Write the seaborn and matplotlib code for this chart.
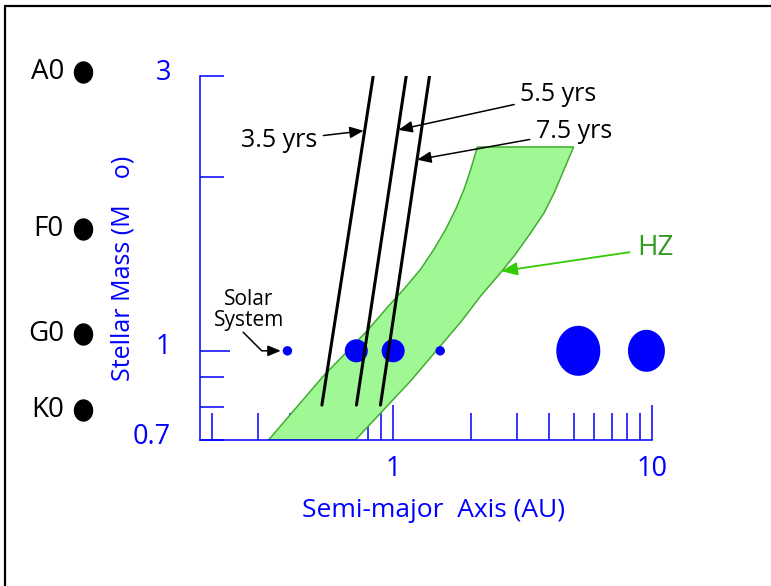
import numpy as np
import pandas as pd
import matplotlib.pyplot as plt
import matplotlib.transforms as mtransforms
from matplotlib.lines import Line2D
from matplotlib.ticker import NullFormatter
import seaborn as sns

# --- data ---
# orbital period lines: semi-major axis (AU) at the low and high mass end
periods = ['3.5 yrs', '5.5 yrs', '7.5 yrs']
period_a_low = [0.530, 0.721, 0.893]
period_a_high = [0.837, 1.123, 1.382]
period_m_low = 0.805
period_m_high = 3.0

# habitable zone edges (AU vs stellar mass)
hz_inner_a = [0.3295, 0.538, 0.793, 0.948, 1.099, 1.276, 1.437, 1.595, 1.744,
              1.878, 1.994, 2.117]
hz_inner_m = [0.70, 0.905, 1.083, 1.189, 1.279, 1.385, 1.500, 1.624, 1.760,
              1.905, 2.065, 2.259]
hz_outer_a = [0.714, 1.167, 1.823, 2.180, 2.606, 2.934, 3.406, 3.835, 4.194,
              4.584, 4.985]
hz_outer_m = [0.70, 0.886, 1.121, 1.245, 1.367, 1.460, 1.603, 1.736, 1.880,
              2.065, 2.259]

# solar system planets
planets = ['Mercury', 'Venus', 'Earth', 'Mars', 'Jupiter', 'Saturn']
planet_a = [0.39, 0.72, 1.0, 1.52, 5.2, 9.54]
planet_m = [1.0, 1.0, 1.0, 1.0, 1.0, 1.0]

# spectral types marked on the left
spec_types = ['A0', 'F0', 'G0', 'K0']
spec_mass = [3.05, 1.63, 1.07, 0.79]

x_major = [1, 10]
x_minor = [0.2, 0.3, 0.4, 0.5, 0.6, 0.7, 0.8, 0.9, 2, 3, 4, 5, 6, 7, 8, 9]
y_major = [1]
y_minor = [0.7, 0.8, 0.9, 2, 3]
y_minor_labels = ['0.7', '', '', '', '3']

BLUE = '#0000ff'

sns.set_theme(style='white')
plt.rcParams['font.family'] = ['Open Sans', 'DejaVu Sans']
plt.rcParams['text.color'] = 'black'

fig = plt.figure(figsize=(7.71, 5.86), dpi=100)
ax = fig.add_axes([0.2594, 0.2491, 0.5859, 0.6212])

# habitable zone band
ax.fill(np.r_[hz_inner_a, hz_outer_a[::-1]], np.r_[hz_inner_m, hz_outer_m[::-1]],
        facecolor='#a0f894', edgecolor='#44aa33', lw=1.1, zorder=1)

# planets (inner ones round, giants slightly tall ellipses)
theta = np.linspace(0, 2 * np.pi, 80)
ellipse = np.column_stack([0.88 * np.cos(theta), np.sin(theta)])
sns.scatterplot(x=planet_a[:4], y=planet_m[:4], s=[46, 275, 275, 46],
                color=BLUE, edgecolor='none', ax=ax, zorder=2, clip_on=False)
sns.scatterplot(x=planet_a[4:], y=planet_m[4:], s=[1296, 914], marker=ellipse,
                color=BLUE, edgecolor='none', ax=ax, zorder=2, clip_on=False)

# period lines
lines_df = pd.DataFrame({
    'period': periods * 2,
    'a': period_a_low + period_a_high,
    'm': [period_m_low] * 3 + [period_m_high] * 3,
})
sns.lineplot(data=lines_df, x='a', y='m', units='period', estimator=None,
             sort=False, color='black', lw=2.2, ax=ax, zorder=3)

ax.set_xscale('log')
ax.set_yscale('log')
ax.set_xlim(0.179, 10)
ax.set_ylim(0.7, 3)

ax.set_xticks(x_major, labels=['1', '10'])
ax.set_xticks(x_minor, minor=True)
ax.xaxis.set_minor_formatter(NullFormatter())
ax.set_yticks(y_major, labels=['1'])
ax.set_yticks(y_minor, labels=y_minor_labels, minor=True)

ax.tick_params(axis='x', which='major', direction='in', length=25, width=1.1,
               color=BLUE, labelcolor=BLUE, labelsize=19.5, pad=11)
ax.tick_params(axis='x', which='minor', direction='in', length=19.5, width=1.1,
               color=BLUE)
ax.tick_params(axis='y', which='major', direction='in', length=21.5, width=1.1,
               color=BLUE, labelcolor=BLUE, labelsize=19.5, pad=21)
ax.tick_params(axis='y', which='minor', direction='in', length=17.3, width=1.1,
               color=BLUE, labelcolor=BLUE, labelsize=19.5, pad=21)
ax.tick_params(bottom=True, left=True, which='both')

# y tick labels sit a little above their ticks in the original
lift = mtransforms.ScaledTranslation(0, 5 / 72, fig.dpi_scale_trans)
for lab in ax.yaxis.get_majorticklabels() + ax.yaxis.get_minorticklabels():
    lab.set_transform(lab.get_transform() + lift)

for side in ['top', 'right']:
    ax.spines[side].set_visible(False)
for side in ['left', 'bottom']:
    ax.spines[side].set_color(BLUE)
    ax.spines[side].set_linewidth(1.1)

ax.set_xlabel('Semi-major  Axis (AU)', color=BLUE, fontsize=19)
ax.xaxis.set_label_coords(0.518, -0.159)
ax.set_ylabel('Stellar Mass (M    o)', color=BLUE, fontsize=18)
ax.yaxis.set_label_coords(-0.1417, 0.4725)

# period labels
arrow_kw = dict(arrowstyle='-|>,head_length=0.6,head_width=0.25', color='black',
                lw=1.1, mutation_scale=14, shrinkA=2, shrinkB=0)
ax.annotate('3.5 yrs', xy=(0.769, 2.41), xytext=(0.509, 2.316), ha='right',
            va='center', fontsize=18, arrowprops=arrow_kw)
ax.annotate('5.5 yrs', xy=(1.048, 2.419), xytext=(3.098, 2.782), ha='left',
            va='center', fontsize=18, arrowprops=arrow_kw)
ax.annotate('7.5 yrs', xy=(1.239, 2.147), xytext=(3.561, 2.403), ha='left',
            va='center', fontsize=18, arrowprops=arrow_kw)

# HZ label
ax.annotate('HZ', xy=(2.622, 1.375), xytext=(8.77, 1.506), ha='left', va='center',
            fontsize=20, color='#339922',
            arrowprops=dict(arrowstyle='-|>,head_length=0.6,head_width=0.25',
                            color='#33cc00', lw=1.3, mutation_scale=16,
                            shrinkA=3, shrinkB=0))

# solar system label with bent arrow
ax.text(0.2759, 1.175, 'Solar\nSystem', ha='center', va='center', fontsize=15,
        linespacing=1.0)
ax.annotate('', xy=(0.372, 1.0), xytext=(0.263, 1.077),
            arrowprops=dict(arrowstyle='-|>,head_length=0.6,head_width=0.25',
                            color='black', lw=1.1, mutation_scale=13, shrinkA=0,
                            shrinkB=1,
                            connectionstyle='angle,angleA=-45,angleB=0,rad=0'))

# spectral types in the left margin
blend = mtransforms.blended_transform_factory(fig.transFigure, ax.transData)
star_marker = np.column_stack([0.86 * np.cos(theta), np.sin(theta)])
ax.scatter([82.5 / 771] * len(spec_mass), spec_mass, s=228, marker=star_marker,
           color='black', transform=blend, clip_on=False, zorder=4)
for t, m in zip(spec_types, spec_mass):
    ax.text(64 / 771, m, t, transform=blend, ha='right', va='center', fontsize=20,
            color='black')

ax.set_xlim(0.179, 10)
ax.set_ylim(0.7, 3)

# frame lines along the top and left of the picture
fig.add_artist(Line2D([5 / 771, 1], [1 - 6 / 586] * 2, color='black', lw=1.6,
                      transform=fig.transFigure))
fig.add_artist(Line2D([5 / 771] * 2, [0, 1 - 6 / 586], color='black', lw=1.6,
                      transform=fig.transFigure))

fig.savefig('out.png', dpi=100, facecolor='white')
